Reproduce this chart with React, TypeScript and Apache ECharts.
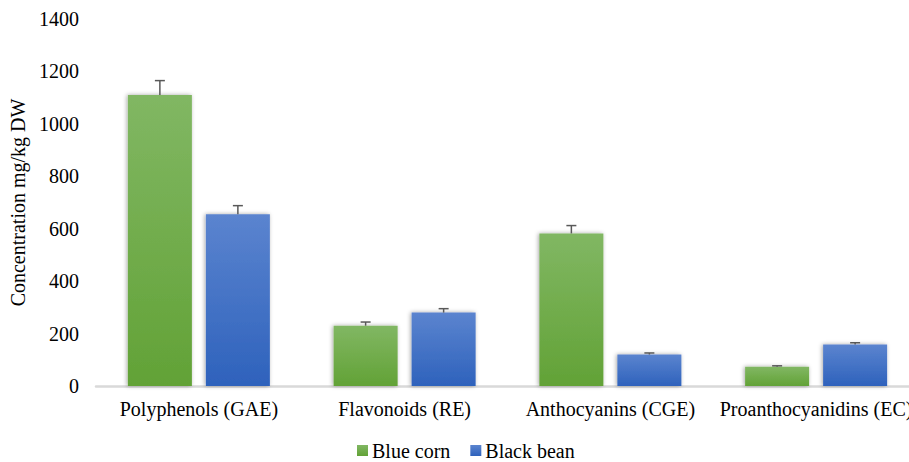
import React, { useEffect, useRef } from "react";
import * as echarts from "echarts";

const categories = ["Polyphenols (GAE)", "Flavonoids (RE)", "Anthocyanins (CGE)", "Proanthocyanidins (EC)"];
const blueCorn = [1110, 230, 582, 73];
const blueCornErr = [55, 14, 30, 4];
const blackBean = [655, 280, 120, 158];
const blackBeanErr = [33, 15, 6, 7];
const yTicks = [0, 200, 400, 600, 800, 1000, 1200, 1400];

const FONT = "Liberation Serif";
const FS = 20;

export default function App() {
  const ref = useRef<HTMLDivElement>(null);
  useEffect(() => {
    document.body.style.margin = "0";
    document.body.style.overflow = "hidden";
    const chart = echarts.init(ref.current!, null, { renderer: "svg" });
    const barW = 64;
    const gap = 14;
    const offset = barW / 2 + gap / 2;
    const errSeries = (vals: number[], errs: number[], dir: number, name: string) => ({
      type: "custom",
      name: name + "-err",
      silent: true,
      z: 5,
      data: vals.map((v, i) => [i, v, errs[i]]),
      renderItem: (params: any, api: any) => {
        const idx = api.value(0);
        const v = api.value(1);
        const e = api.value(2);
        const base = api.coord([idx, v]);
        const top = api.coord([idx, v + e]);
        const x = base[0] + dir * offset;
        const cap = 5;
        return {
          type: "group",
          children: [
            { type: "line", shape: { x1: x, y1: base[1], x2: x, y2: top[1] }, style: { stroke: "#595959", lineWidth: 1.5 } },
            { type: "line", shape: { x1: x - cap, y1: top[1], x2: x + cap, y2: top[1] }, style: { stroke: "#595959", lineWidth: 1.5 } },
          ],
        };
      },
    });
    chart.setOption({
      animation: false,
      textStyle: { fontFamily: FONT },
      grid: { left: 96, top: 19, width: 823, height: 367, containLabel: false },
      legend: {
        top: 440,
        left: 357,
        padding: 0,
        itemWidth: 11,
        itemHeight: 11,
        itemGap: 20,
        icon: "rect",
        data: ["Blue corn", "Black bean"],
        textStyle: { fontFamily: FONT, fontSize: FS, color: "#000", lineHeight: 21, padding: [0, 0, 0, -1] },
      },
      xAxis: {
        type: "category",
        data: categories,
        axisLine: { lineStyle: { color: "#d9d9d9", width: 2.5 } },
        axisTick: { show: false },
        axisLabel: { fontFamily: FONT, fontSize: FS, color: "#000", margin: 13, interval: 0 },
      },
      yAxis: {
        type: "value",
        min: 0,
        max: 1400,
        interval: 200,
        name: "Concentration mg/kg DW",
        nameLocation: "middle",
        nameGap: 62,
        nameTextStyle: { fontFamily: FONT, fontSize: FS, color: "#000" },
        axisLine: { show: false },
        axisTick: { show: false },
        splitLine: { show: false },
        axisLabel: {
          fontFamily: FONT,
          fontSize: FS,
          color: "#000",
          margin: 17,
          formatter: (v: number) => (yTicks.includes(v) ? String(v) : ""),
        },
      },
      series: [
        {
          type: "bar",
          name: "Blue corn",
          data: blueCorn,
          barWidth: barW,
          barGap: (gap / barW) * 100 + "%",
          itemStyle: {
            color: new echarts.graphic.LinearGradient(0, 0, 0, 1, [
              { offset: 0, color: "#81b763" },
              { offset: 1, color: "#62a236" },
            ]),
            shadowBlur: 4,
            shadowColor: "rgba(0,0,0,0.35)",
            shadowOffsetX: -1,
          },
        },
        {
          type: "bar",
          name: "Black bean",
          data: blackBean,
          barWidth: barW,
          itemStyle: {
            color: new echarts.graphic.LinearGradient(0, 0, 0, 1, [
              { offset: 0, color: "#5b84cf" },
              { offset: 1, color: "#2e62bc" },
            ]),
            shadowBlur: 4,
            shadowColor: "rgba(0,0,0,0.35)",
            shadowOffsetX: -1,
          },
        },
        errSeries(blueCorn, blueCornErr, -1, "Blue corn"),
        errSeries(blackBean, blackBeanErr, 1, "Black bean"),
      ],
    } as any);
    (chart.getZr() as any).refreshImmediately();
    return () => chart.dispose();
  }, []);
  return (
    <div style={{ width: 909, height: 462, overflow: "hidden" }}>
      <div ref={ref} style={{ width: 940, height: 462 }} />
    </div>
  );
}
